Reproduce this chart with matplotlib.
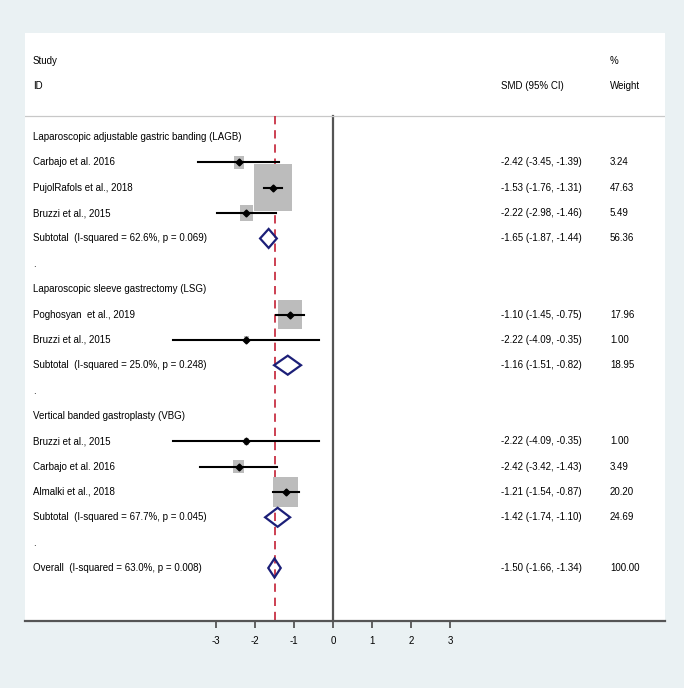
import matplotlib
matplotlib.use("Agg")
import matplotlib.pyplot as plt
from matplotlib.patches import Rectangle, Polygon
from matplotlib import font_manager

# narrow Arial-like face if present, else regular Liberation Sans
names = {f.name for f in font_manager.fontManager.ttflist}
NARROW = "Liberation Sans Narrow" in names
plt.rcParams["font.family"] = (["Liberation Sans Narrow"] if NARROW else ["Liberation Sans"]) + ["DejaVu Sans"]
fs = 8.4 if NARROW else 7

# ---- data ------------------------------------------------------------------
rows = list(range(3, 21))
labels = [
    "Laparoscopic adjustable gastric banding (LAGB)",
    "Carbajo et al. 2016",
    "PujolRafols et al., 2018",
    "Bruzzi et al., 2015",
    "Subtotal  (I-squared = 62.6%, p = 0.069)",
    ".",
    "Laparoscopic sleeve gastrectomy (LSG)",
    "Poghosyan  et al., 2019",
    "Bruzzi et al., 2015",
    "Subtotal  (I-squared = 25.0%, p = 0.248)",
    ".",
    "Vertical banded gastroplasty (VBG)",
    "Bruzzi et al., 2015",
    "Carbajo et al. 2016",
    "Almalki et al., 2018",
    "Subtotal  (I-squared = 67.7%, p = 0.045)",
    ".",
    "Overall  (I-squared = 63.0%, p = 0.008)",
]
kinds = ["head", "study", "study", "study", "sub", "gap",
         "head", "study", "study", "sub", "gap",
         "head", "study", "study", "study", "sub", "gap", "sub"]
smd = [None, -2.42, -1.53, -2.22, -1.65, None,
       None, -1.10, -2.22, -1.16, None,
       None, -2.22, -2.42, -1.21, -1.42, None, -1.50]
lo = [None, -3.45, -1.76, -2.98, -1.87, None,
      None, -1.45, -4.09, -1.51, None,
      None, -4.09, -3.42, -1.54, -1.74, None, -1.66]
hi = [None, -1.39, -1.31, -1.46, -1.44, None,
      None, -0.75, -0.35, -0.82, None,
      None, -0.35, -1.43, -0.87, -1.10, None, -1.34]
weight = [None, 3.24, 47.63, 5.49, 56.36, None,
          None, 17.96, 1.00, 18.95, None,
          None, 1.00, 3.49, 20.20, 24.69, None, 100.00]
overall_smd = -1.50
xticks = [-3, -2, -1, 0, 1, 2, 3]

# ---- geometry: 39 px per SMD unit, 25.35 px per row ------------------------
PX_X, PX_Y = 39.0, 25.35
W, H = 684, 688
fig = plt.figure(figsize=(W / 100, H / 100), dpi=100)
fig.patch.set_facecolor("#eaf1f3")
ax = fig.add_axes([25 / W, (H - 621) / H, 640 / W, 588 / H])
ax.set_facecolor("white")
ax.set_xlim((25 - 333) / PX_X, (665 - 333) / PX_X)
ax.set_ylim((621 - 61) / PX_Y, (33 - 61) / PX_Y)

for s in ["top", "left", "right"]:
    ax.spines[s].set_visible(False)
ax.spines["bottom"].set_color("#555555")
ax.spines["bottom"].set_linewidth(1.6)
ax.set_yticks([])
ax.set_xticks(xticks)
ax.set_xticklabels([str(t) for t in xticks], fontsize=fs)
ax.tick_params(axis="x", length=5, width=1.3, color="#555555", pad=6)

top_line = (116 - 61) / PX_Y
ybot = ax.get_ylim()[0]
ax.axhline(top_line, color="#c8c8c8", lw=0.9)
ax.plot([0, 0], [top_line, ybot], color="#555555", lw=1.6, zorder=1)
ax.plot([overall_smd] * 2, [top_line, ybot], color="#c42035", lw=1.2,
        ls=(0, (5, 3.5)), zorder=2)

x_lab, x_smd, x_w = (33 - 333) / PX_X, (501 - 333) / PX_X, (610 - 333) / PX_X
ax.text(x_lab, 0, "Study", fontsize=fs, va="center")
ax.text(x_lab, 1, "ID", fontsize=fs, va="center")
ax.text(x_smd, 1, "SMD (95% CI)", fontsize=fs, va="center")
ax.text(x_w, 0, "%", fontsize=fs, va="center")
ax.text(x_w, 1, "Weight", fontsize=fs, va="center")

box_c = 5.5      # px per sqrt(weight)
box_ratio = 1.24  # height / width in px
dia_half = 9.5 / PX_Y

for r, lab, k, m, l, h, w in zip(rows, labels, kinds, smd, lo, hi, weight):
    ax.text(x_lab, r, lab, fontsize=fs, va="center")
    if m is None:
        continue
    ax.text(x_smd, r, f"{m:.2f} ({l:.2f}, {h:.2f})", fontsize=fs, va="center")
    ax.text(x_w, r, f"{w:.2f}", fontsize=fs, va="center")
    if k == "study":
        bw = box_c * w ** 0.5
        bwx, bhy = bw / PX_X, bw * box_ratio / PX_Y
        ax.add_patch(Rectangle((m - bwx / 2, r - bhy / 2), bwx, bhy,
                               facecolor="#bcbcbc", edgecolor="none", zorder=3))
        ax.plot([l, h], [r, r], color="black", lw=1.5, zorder=4)
        ax.plot(m, r, marker="D", color="black", ms=3.5, zorder=5)
    else:
        ax.add_patch(Polygon([(l, r), (m, r - dia_half), (h, r), (m, r + dia_half)],
                             closed=True, facecolor="none", edgecolor="#1c1f78",
                             lw=1.6, zorder=4))

fig.savefig("out.png", dpi=100, facecolor=fig.get_facecolor())
